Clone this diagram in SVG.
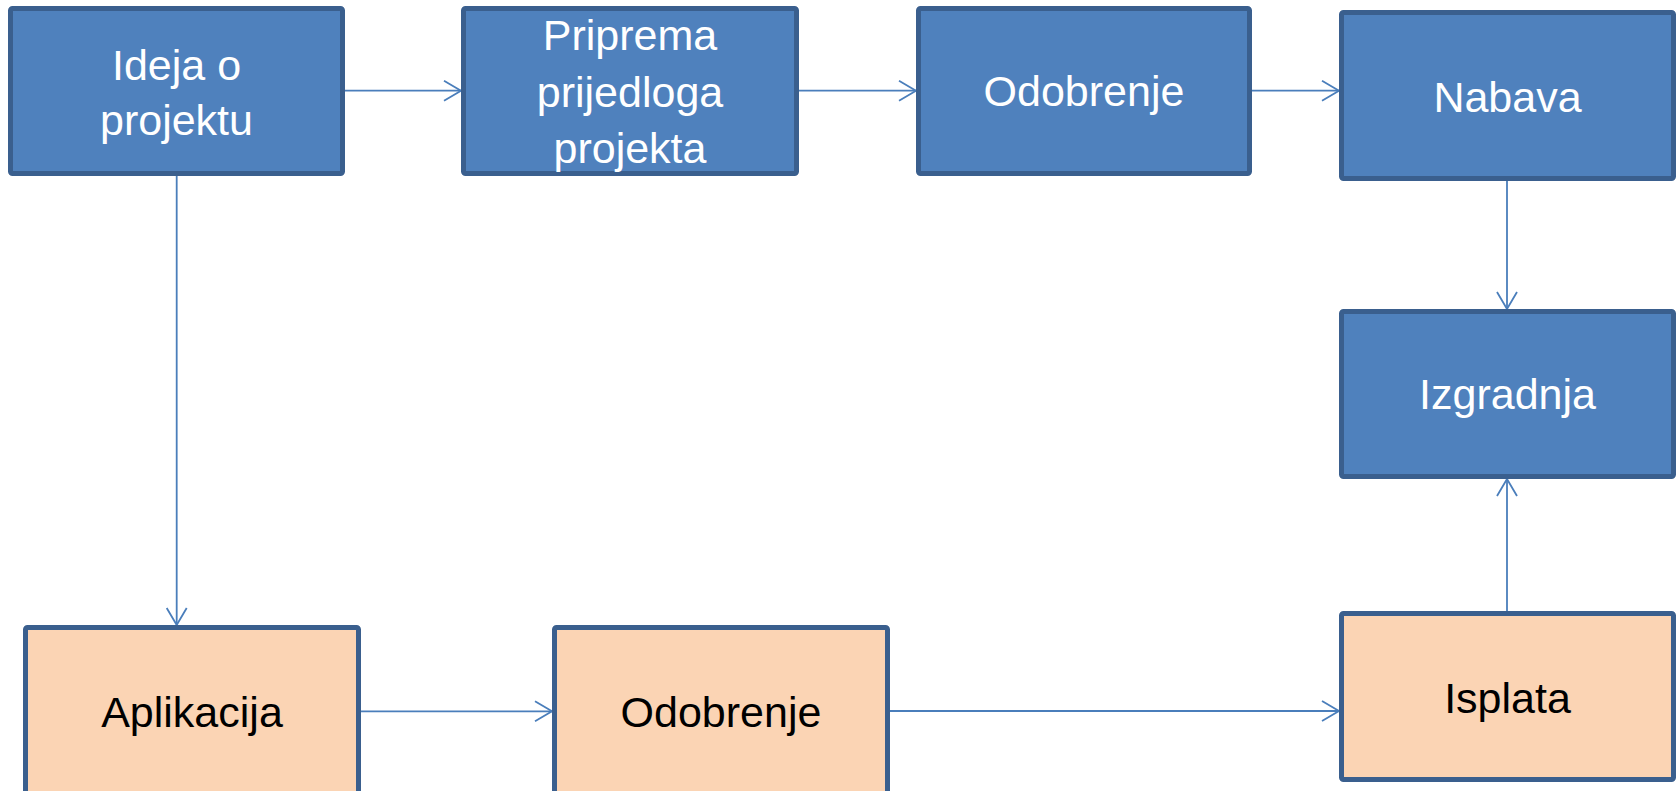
<svg xmlns="http://www.w3.org/2000/svg" width="1680" height="791" viewBox="0 0 1680 791">
<style>
.box{stroke:#3A5F8E;stroke-width:5;rx:2}
.blue{fill:#4F81BD}
.peach{fill:#FBD4B4}
.t{font-family:"Liberation Sans",Arial,sans-serif;font-size:43px;text-anchor:middle}
.tw{fill:#FFFFFF}
.tb{fill:#000000}
.conn{fill:none;stroke:#4A7EBB;stroke-width:1.8;marker-end:url(#arr)}
</style>
<defs>
<marker id="arr" markerUnits="userSpaceOnUse" viewBox="-19 -12 21 24" refX="0" refY="0" markerWidth="21" markerHeight="24" orient="auto">
<path d="M-17,-10 L0,0 L-17,10" fill="none" stroke="#4A7EBB" stroke-width="1.8"/>
</marker>
</defs>
<g id="connectors">
<path class="conn" d="M345,90.7 H461"/>
<path class="conn" d="M799,90.7 H916"/>
<path class="conn" d="M1252,90.7 H1339"/>
<path class="conn" d="M1507,181 V309"/>
<path class="conn" d="M176.7,176 V625"/>
<path class="conn" d="M361,711.3 H552"/>
<path class="conn" d="M890,711 H1339"/>
<path class="conn" d="M1507,611 V479"/>
</g>
<g id="ideja">
<rect class="box blue" x="10.5" y="8.5" width="332" height="165"/>
<text class="t tw" x="176.5" y="80">Ideja o</text>
<text class="t tw" x="176.5" y="135">projektu</text>
</g>
<g id="priprema">
<rect class="box blue" x="463.5" y="8.5" width="333" height="165"/>
<text class="t tw" x="630" y="50">Priprema</text>
<text class="t tw" x="630" y="106.5">prijedloga</text>
<text class="t tw" x="630" y="163">projekta</text>
</g>
<g id="odobrenje1">
<rect class="box blue" x="918.5" y="8.5" width="331" height="165"/>
<text class="t tw" x="1084" y="106">Odobrenje</text>
</g>
<g id="nabava">
<rect class="box blue" x="1341.5" y="12.5" width="332" height="166"/>
<text class="t tw" x="1507.5" y="112">Nabava</text>
</g>
<g id="izgradnja">
<rect class="box blue" x="1341.5" y="311.5" width="332" height="165"/>
<text class="t tw" x="1507.5" y="409">Izgradnja</text>
</g>
<g id="aplikacija">
<rect class="box peach" x="25.5" y="627.5" width="333" height="166"/>
<text class="t tb" x="192" y="727">Aplikacija</text>
</g>
<g id="odobrenje2">
<rect class="box peach" x="554.5" y="627.5" width="333" height="166"/>
<text class="t tb" x="721" y="727">Odobrenje</text>
</g>
<g id="isplata">
<rect class="box peach" x="1341.5" y="613.5" width="332" height="166"/>
<text class="t tb" x="1507.5" y="712.5">Isplata</text>
</g>
</svg>
